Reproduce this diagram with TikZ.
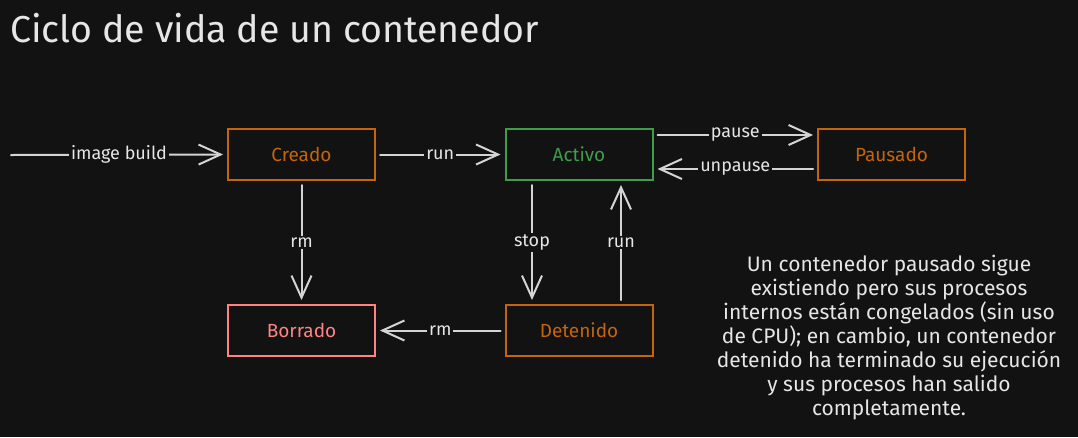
\documentclass[tikz,border=0pt]{standalone}
\usepackage{fontspec}
\setmainfont{Fira Sans}
\usetikzlibrary{arrows.meta}
\definecolor{bg}{HTML}{121212}
\definecolor{lineg}{HTML}{D4D4D4}
\definecolor{txt}{HTML}{E6E6E6}
\definecolor{orng}{HTML}{C4650C}
\definecolor{grn}{HTML}{3E9C4C}
\definecolor{pnk}{HTML}{FF8383}
\tikzset{
  box/.style={draw, line width=2pt, minimum width=147pt, minimum height=51pt, inner sep=0pt, font=\fontsize{19}{21}\selectfont},
  conn/.style={draw=lineg, line width=2pt, line cap=round, -{Straight Barb[length=22pt,width=20pt,line width=2pt]}, shorten >=4pt, shorten <=4pt},
  lbl/.style={fill=bg, text=txt, inner sep=2pt, font=\fontsize{18}{20}\selectfont}
}
\begin{document}
\begin{tikzpicture}[x=1pt,y=-1pt]
\fill[bg] (0,0) rectangle (1078,437);
\useasboundingbox (0,0) rectangle (1078,437);
\node[anchor=base west, text=txt, font=\fontsize{37.5}{40}\selectfont, inner sep=0pt] (title) at (10,42) {Ciclo de vida de un contenedor};
\node[box, draw=orng, text=orng] (creado) at (301.5,154.5) {Creado};
\node[box, draw=grn, text=grn] (activo) at (579,154.5) {Activo};
\node[box, draw=orng, text=orng] (pausado) at (891.5,154.5) {Pausado};
\node[box, draw=pnk, text=pnk] (borrado) at (301.5,330.5) {Borrado};
\node[box, draw=orng, text=orng] (detenido) at (579,330.5) {Detenido};
\coordinate (start) at (11,155);
\draw[conn, shorten <=0pt] (start) -- (creado.west) node[lbl, midway] {image build};
\draw[conn] (creado.east) -- (activo.west) node[lbl, midway] {run};
\draw[conn] ([yshift=19.5pt]activo.east) -- ([yshift=19.5pt]pausado.west) node[lbl, midway] {pause};
\draw[conn] ([yshift=-14.5pt]pausado.west) -- ([yshift=-14.5pt]activo.east) node[lbl, midway] {unpause};
\draw[conn] (creado.south) -- (borrado.north) node[lbl, midway] {rm};
\draw[conn] ([xshift=-47pt]activo.south) -- ([xshift=-47pt]detenido.north) node[lbl, midway] {stop};
\draw[conn] ([xshift=42pt]detenido.north) -- ([xshift=42pt]activo.south) node[lbl, midway] {run};
\draw[conn] (detenido.west) -- (borrado.east) node[lbl, midway] {rm};
\node[text=txt, align=center, anchor=north, inner sep=0pt, font=\fontsize{21}{24}\selectfont] (note) at (889,255) {Un contenedor pausado sigue\\existiendo pero sus procesos\\internos están congelados (sin uso\\de CPU); en cambio, un contenedor\\detenido ha terminado su ejecución\\y sus procesos han salido\\completamente.};
\end{tikzpicture}
\end{document}
